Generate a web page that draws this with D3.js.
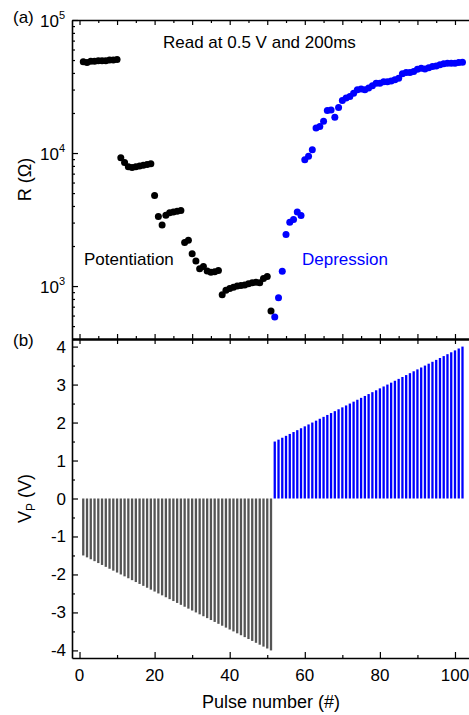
<!DOCTYPE html>
<html>
<head>
<meta charset="utf-8">
<script src="https://cdn.jsdelivr.net/npm/d3@7"></script>
<style>
  body { margin: 0; background: #fff; }
  text { font-family: "Liberation Sans", Arial, sans-serif; fill: #000; }
</style>
</head>
<body>
<div id="chart"></div>
<script>
// resistance read after each pulse (ohm), pulses 1..51 then 52..102
var potR = [48500, 48000, 49000, 49000, 49500, 49500, 49500, 50000, 50000, 50500,
  9200, 8500, 7900, 7800, 7900, 8000, 8100, 8200, 8300,
  4800,
  3340, 2880, 3400, 3550, 3600, 3650, 3700,
  2130, 2210, 1750, 1540, 1350, 1400, 1300, 1270, 1280, 1310,
  860, 930, 960, 980, 1000, 1010, 1020, 1040, 1060, 1070, 1060, 1140, 1180,
  650];
var depR = [585, 817, 1295, 2440, 3020, 3160, 3600, 3390, 8910, 9440,
  10600, 15400, 15850, 17300, 20900, 21100, 18600, 22000, 24800, 25900,
  26600, 28200, 29900, 30300, 29900, 30800, 32000, 33500, 33500, 34400,
  34400, 34800, 35500, 36500, 39400, 40300, 40300, 41000, 42700, 43400,
  42900, 43800, 44700, 45200, 46000, 46800, 47300, 47300, 47300, 47900, 48100];

// pulse amplitude (V)
var potV = [-1.50, -1.55, -1.60, -1.65, -1.70, -1.75, -1.80, -1.85, -1.90, -1.95,
  -2.00, -2.05, -2.10, -2.15, -2.20, -2.25, -2.30, -2.35, -2.40, -2.45,
  -2.50, -2.55, -2.60, -2.65, -2.70, -2.75, -2.80, -2.85, -2.90, -2.95,
  -3.00, -3.05, -3.10, -3.15, -3.20, -3.25, -3.30, -3.35, -3.40, -3.45,
  -3.50, -3.55, -3.60, -3.65, -3.70, -3.75, -3.80, -3.85, -3.90, -3.95, -4.00];
var depV = [1.50, 1.55, 1.60, 1.65, 1.70, 1.75, 1.80, 1.85, 1.90, 1.95,
  2.00, 2.05, 2.10, 2.15, 2.20, 2.25, 2.30, 2.35, 2.40, 2.45,
  2.50, 2.55, 2.60, 2.65, 2.70, 2.75, 2.80, 2.85, 2.90, 2.95,
  3.00, 3.05, 3.10, 3.15, 3.20, 3.25, 3.30, 3.35, 3.40, 3.45,
  3.50, 3.55, 3.60, 3.65, 3.70, 3.75, 3.80, 3.85, 3.90, 3.95, 4.00];

var xTicks = [0, 20, 40, 60, 80, 100];
var rTicks = [1e3, 1e4, 1e5];
var vTicks = [-4, -3, -2, -1, 0, 1, 2, 3, 4];

var potColor = "#000", depColor = "#0000ff";

var width = 469, height = 715;
var left = 72, right = 470;
var topA = 20, botA = 339, topB = 339, botB = 658;

var svg = d3.select("#chart").append("svg")
    .attr("width", width).attr("height", height);

var x = d3.scaleLinear().domain([-2, 104]).range([left, right]);
var yR = d3.scaleLog().domain([400, 1e5]).range([botA, topA]);
var yV = d3.scaleLinear().domain([-4.2, 4.2]).range([botB, topB]);

// pulse index is position in array (+1 for pot, +52 for dep)
var potPts = potR.map(function(v, i) { return {n: i + 1, r: v}; });
var depPts = depR.map(function(v, i) { return {n: i + 52, r: v}; });
var potBars = potV.map(function(v, i) { return {n: i + 1, v: v}; });
var depBars = depV.map(function(v, i) { return {n: i + 52, v: v}; });

// ---- panel (b) bars
var bw = 2.3;
svg.append("g").selectAll("rect.pot")
    .data(potBars).enter().append("rect")
    .attr("x", function(d) { return x(d.n) - bw / 2; })
    .attr("width", bw)
    .attr("y", yV(0))
    .attr("height", function(d) { return yV(d.v) - yV(0); })
    .attr("fill", "#555");
svg.append("g").selectAll("rect.dep")
    .data(depBars).enter().append("rect")
    .attr("x", function(d) { return x(d.n) - bw / 2; })
    .attr("width", bw)
    .attr("y", function(d) { return yV(d.v); })
    .attr("height", function(d) { return yV(0) - yV(d.v); })
    .attr("fill", depColor);

// ---- panel (a) dots
svg.append("g").selectAll("circle")
    .data(potPts).enter().append("circle")
    .attr("cx", function(d) { return x(d.n); })
    .attr("cy", function(d) { return yR(d.r); })
    .attr("r", 3.5)
    .attr("fill", potColor);
svg.append("g").selectAll("circle")
    .data(depPts).enter().append("circle")
    .attr("cx", function(d) { return x(d.n); })
    .attr("cy", function(d) { return yR(d.r); })
    .attr("r", 3.5)
    .attr("fill", depColor);

// ---- axes
function styleAxis(g, w) {
  g.selectAll(".domain").attr("stroke", "#000").attr("stroke-width", w);
  g.selectAll(".tick line").attr("stroke", "#000").attr("stroke-width", 1.2);
}

// minor x ticks every 5 for top panel
var xMinorA = d3.range(0, 105, 5);
var xMajorA = d3.range(0, 105, 10);

// panel a: top
var gTopA = svg.append("g").attr("transform", "translate(0," + topA + ")");
gTopA.call(d3.axisBottom(x).tickValues(xMinorA).tickSize(3).tickFormat("").tickSizeOuter(0));
gTopA.call(function(g) {
  g.selectAll(".tick line").attr("y2", function(d) { return d % 10 === 0 ? 5 : 3; });
});
styleAxis(gTopA, 1.6);

// panel a: bottom (ticks point up)
var gBotA = svg.append("g").attr("transform", "translate(0," + botA + ")");
gBotA.call(d3.axisTop(x).tickValues(xMinorA).tickSize(3).tickFormat("").tickSizeOuter(0));
gBotA.call(function(g) {
  g.selectAll(".tick line").attr("y2", function(d) { return d % 10 === 0 ? -5 : -3; });
});
styleAxis(gBotA, 2);

// panel b: top (ticks point down)
var gTopB = svg.append("g").attr("transform", "translate(0," + topB + ")");
gTopB.call(d3.axisBottom(x).tickValues(xMajorA).tickSize(5).tickFormat("").tickSizeOuter(0));
styleAxis(gTopB, 2);

// panel b: bottom
var xMinorB = d3.range(0, 105, 10);
var gBotB = svg.append("g").attr("transform", "translate(0," + botB + ")");
gBotB.call(d3.axisTop(x).tickValues(xMinorB).tickSize(3).tickFormat("").tickSizeOuter(0));
gBotB.call(function(g) {
  g.selectAll(".tick line").attr("y2", function(d) { return d % 20 === 0 ? -6 : -3; });
});
styleAxis(gBotB, 1.6);
svg.append("g").selectAll("text")
    .data(xTicks).enter().append("text")
    .attr("x", function(d) { return x(d); })
    .attr("y", botB + 23)
    .attr("text-anchor", "middle")
    .style("font-size", "17px")
    .text(function(d) { return d; });

// panel a: left log axis
var rMinor = [];
[100, 1000, 10000].forEach(function(dec) {
  for (var k = 1; k <= 9; k++) {
    var v = dec * k;
    if (v >= 400 && v <= 1e5) rMinor.push(v);
  }
});
rMinor.push(1e5);
var gLeftA = svg.append("g").attr("transform", "translate(" + left + ",0)");
gLeftA.call(d3.axisRight(yR).tickValues(rMinor).tickSize(3).tickFormat("").tickSizeOuter(0));
gLeftA.call(function(g) {
  g.selectAll(".tick line").attr("x2", function(d) {
    return rTicks.indexOf(d) >= 0 ? 6 : 3;
  });
});
styleAxis(gLeftA, 1.6);
var rLab = svg.append("g").selectAll("text")
    .data(rTicks).enter().append("text")
    .attr("x", left - 7)
    .attr("y", function(d) { return yR(d) + 7; })
    .attr("text-anchor", "end")
    .style("font-size", "17px");
rLab.append("tspan").text("10");
rLab.append("tspan")
    .attr("dy", -8)
    .style("font-size", "11px")
    .text(function(d) { return Math.round(Math.log10(d)); });

// panel b: left linear axis
var vMinor = d3.range(-4, 4.01, 0.5);
var gLeftB = svg.append("g").attr("transform", "translate(" + left + ",0)");
gLeftB.call(d3.axisRight(yV).tickValues(vMinor).tickSize(3).tickFormat("").tickSizeOuter(0));
gLeftB.call(function(g) {
  g.selectAll(".tick line").attr("x2", function(d) {
    return Number.isInteger(d) ? 6 : 3;
  });
});
styleAxis(gLeftB, 1.6);
svg.append("g").selectAll("text")
    .data(vTicks).enter().append("text")
    .attr("x", left - 6)
    .attr("y", function(d) { return yV(d) + 6; })
    .attr("text-anchor", "end")
    .style("font-size", "17px")
    .text(function(d) { return d; });

// ---- titles and notes
svg.append("text")
    .attr("transform", "translate(31," + ((topA + botA) / 2) + ") rotate(-90)")
    .attr("text-anchor", "middle")
    .style("font-size", "18px")
    .text("R (\u03A9)");

var vt = svg.append("text")
    .attr("transform", "translate(31," + ((topB + botB) / 2) + ") rotate(-90)")
    .attr("text-anchor", "middle")
    .style("font-size", "18px");
vt.append("tspan").text("V");
vt.append("tspan").attr("dy", 4).style("font-size", "12px").text("P");
vt.append("tspan").attr("dy", -4).text(" (V)");

svg.append("text")
    .attr("x", (left + right) / 2)
    .attr("y", 708)
    .attr("text-anchor", "middle")
    .style("font-size", "18px")
    .text("Pulse number (#)");

svg.append("text").attr("x", 13).attr("y", 23).style("font-size", "17px").text("(a)");
svg.append("text").attr("x", 13).attr("y", 346).style("font-size", "17px").text("(b)");

svg.append("text").attr("x", 163).attr("y", 48).style("font-size", "17px")
    .text("Read at 0.5 V and 200ms");
svg.append("text").attr("x", 84).attr("y", 265).style("font-size", "17px")
    .text("Potentiation");
svg.append("text").attr("x", 302).attr("y", 265).style("font-size", "17px")
    .style("fill", depColor)
    .text("Depression");
</script>
</body>
</html>
